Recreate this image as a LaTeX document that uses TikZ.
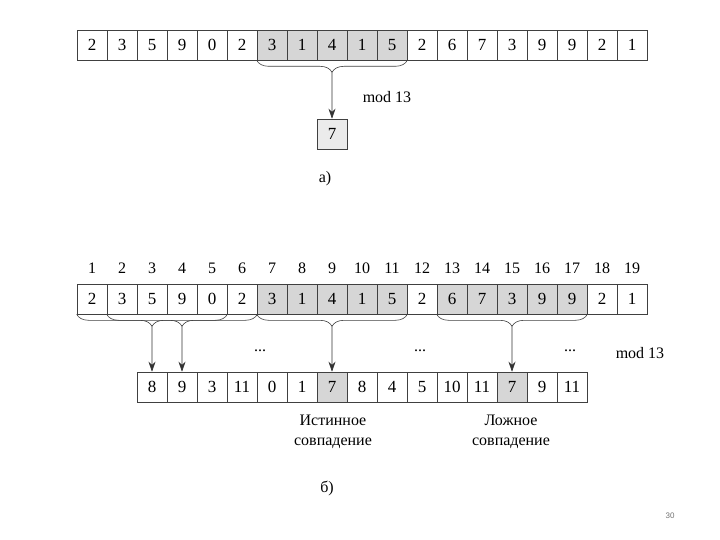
\documentclass[tikz,border=0pt]{standalone}
\usepackage{fontspec}
\setmainfont{Liberation Serif}
\newfontfamily\pagefont{Liberation Sans}
\usetikzlibrary{decorations.pathreplacing,arrows.meta,calc}
\colorlet{hitgray}{black!16}
\tikzset{
  cell/.style={draw=black!75,line width=0.6pt,minimum size=30pt,inner sep=0pt,font=\fontsize{17}{20}\selectfont},
  lbl/.style={inner sep=1pt,font=\fontsize{16}{20}\selectfont},
  brc/.style={decorate,decoration={brace,mirror,amplitude=12pt},draw=black!75,line width=0.6pt},
  arr/.style={draw=black!80,line width=0.6pt,-{Stealth[length=10pt,width=7pt]}}
}

\begin{document}
\begin{tikzpicture}[x=1pt,y=-1pt]
\useasboundingbox (0,0) rectangle (720,540);

% a) one window
\foreach \v/\f [count=\i] in {2/white,3/white,5/white,9/white,0/white,2/white,3/hitgray,1/hitgray,4/hitgray,1/hitgray,5/hitgray,2/white,6/white,7/white,3/white,9/white,9/white,2/white,1/white}
  \node[cell,fill=\f] (t\i) at ({62+30*\i},45) {\v};
\draw[brc] (t7.south west) -- (t11.south east);
\coordinate (ta) at ($(t7.south west)!0.5!(t11.south east)+(0,12)$);
\node[cell,fill=hitgray!50] (res) at (332,134) {7};
\draw[arr] (ta) -- (res);
\node[lbl] (moda) at (387,97) {mod 13};
\node[lbl] (capa) at (325,179) {а)};

% b) all windows
\foreach \n in {1,...,19}
  \node[lbl] (i\n) at ({62+30*\n},268) {\n};
\foreach \v/\f [count=\i] in {2/white,3/white,5/white,9/white,0/white,2/white,3/hitgray,1/hitgray,4/hitgray,1/hitgray,5/hitgray,2/white,6/hitgray,7/hitgray,3/hitgray,9/hitgray,9/hitgray,2/white,1/white}
  \node[cell,fill=\f] (b\i) at ({62+30*\i},299) {\v};
\foreach \v/\f [count=\i] in {8/white,9/white,3/white,11/white,0/white,1/white,7/hitgray,8/white,4/white,5/white,10/white,11/white,7/hitgray,9/white,11/white}
  \node[cell,fill=\f] (r\i) at ({122+30*\i},387) {\v};

\foreach \s/\e/\k/\r in {1/5/1/1,2/6/2/2,7/11/3/7,13/17/4/13}{
  \draw[brc] (b\s.south west) -- (b\e.south east);
  \coordinate (tb\k) at ($(b\s.south west)!0.5!(b\e.south east)+(0,12)$);
  \draw[arr] (tb\k) -- (r\r);
}

\node[lbl] (dots1) at (260,351) {...};
\node[lbl] (dots2) at (420,351) {...};
\node[lbl] (dots3) at (570,351) {...};
\node[lbl] (modb) at (640,353) {mod 13};

\node[lbl,align=center] (truehit) at (333,432) {Истинное\\совпадение};
\node[lbl,align=center] (falsehit) at (511,432) {Ложное\\совпадение};
\node[lbl] (capb) at (327,488) {б)};

\node[text=black!55,font=\pagefont\fontsize{8}{10}\selectfont] (page) at (670,516) {30};
\end{tikzpicture}
\end{document}
